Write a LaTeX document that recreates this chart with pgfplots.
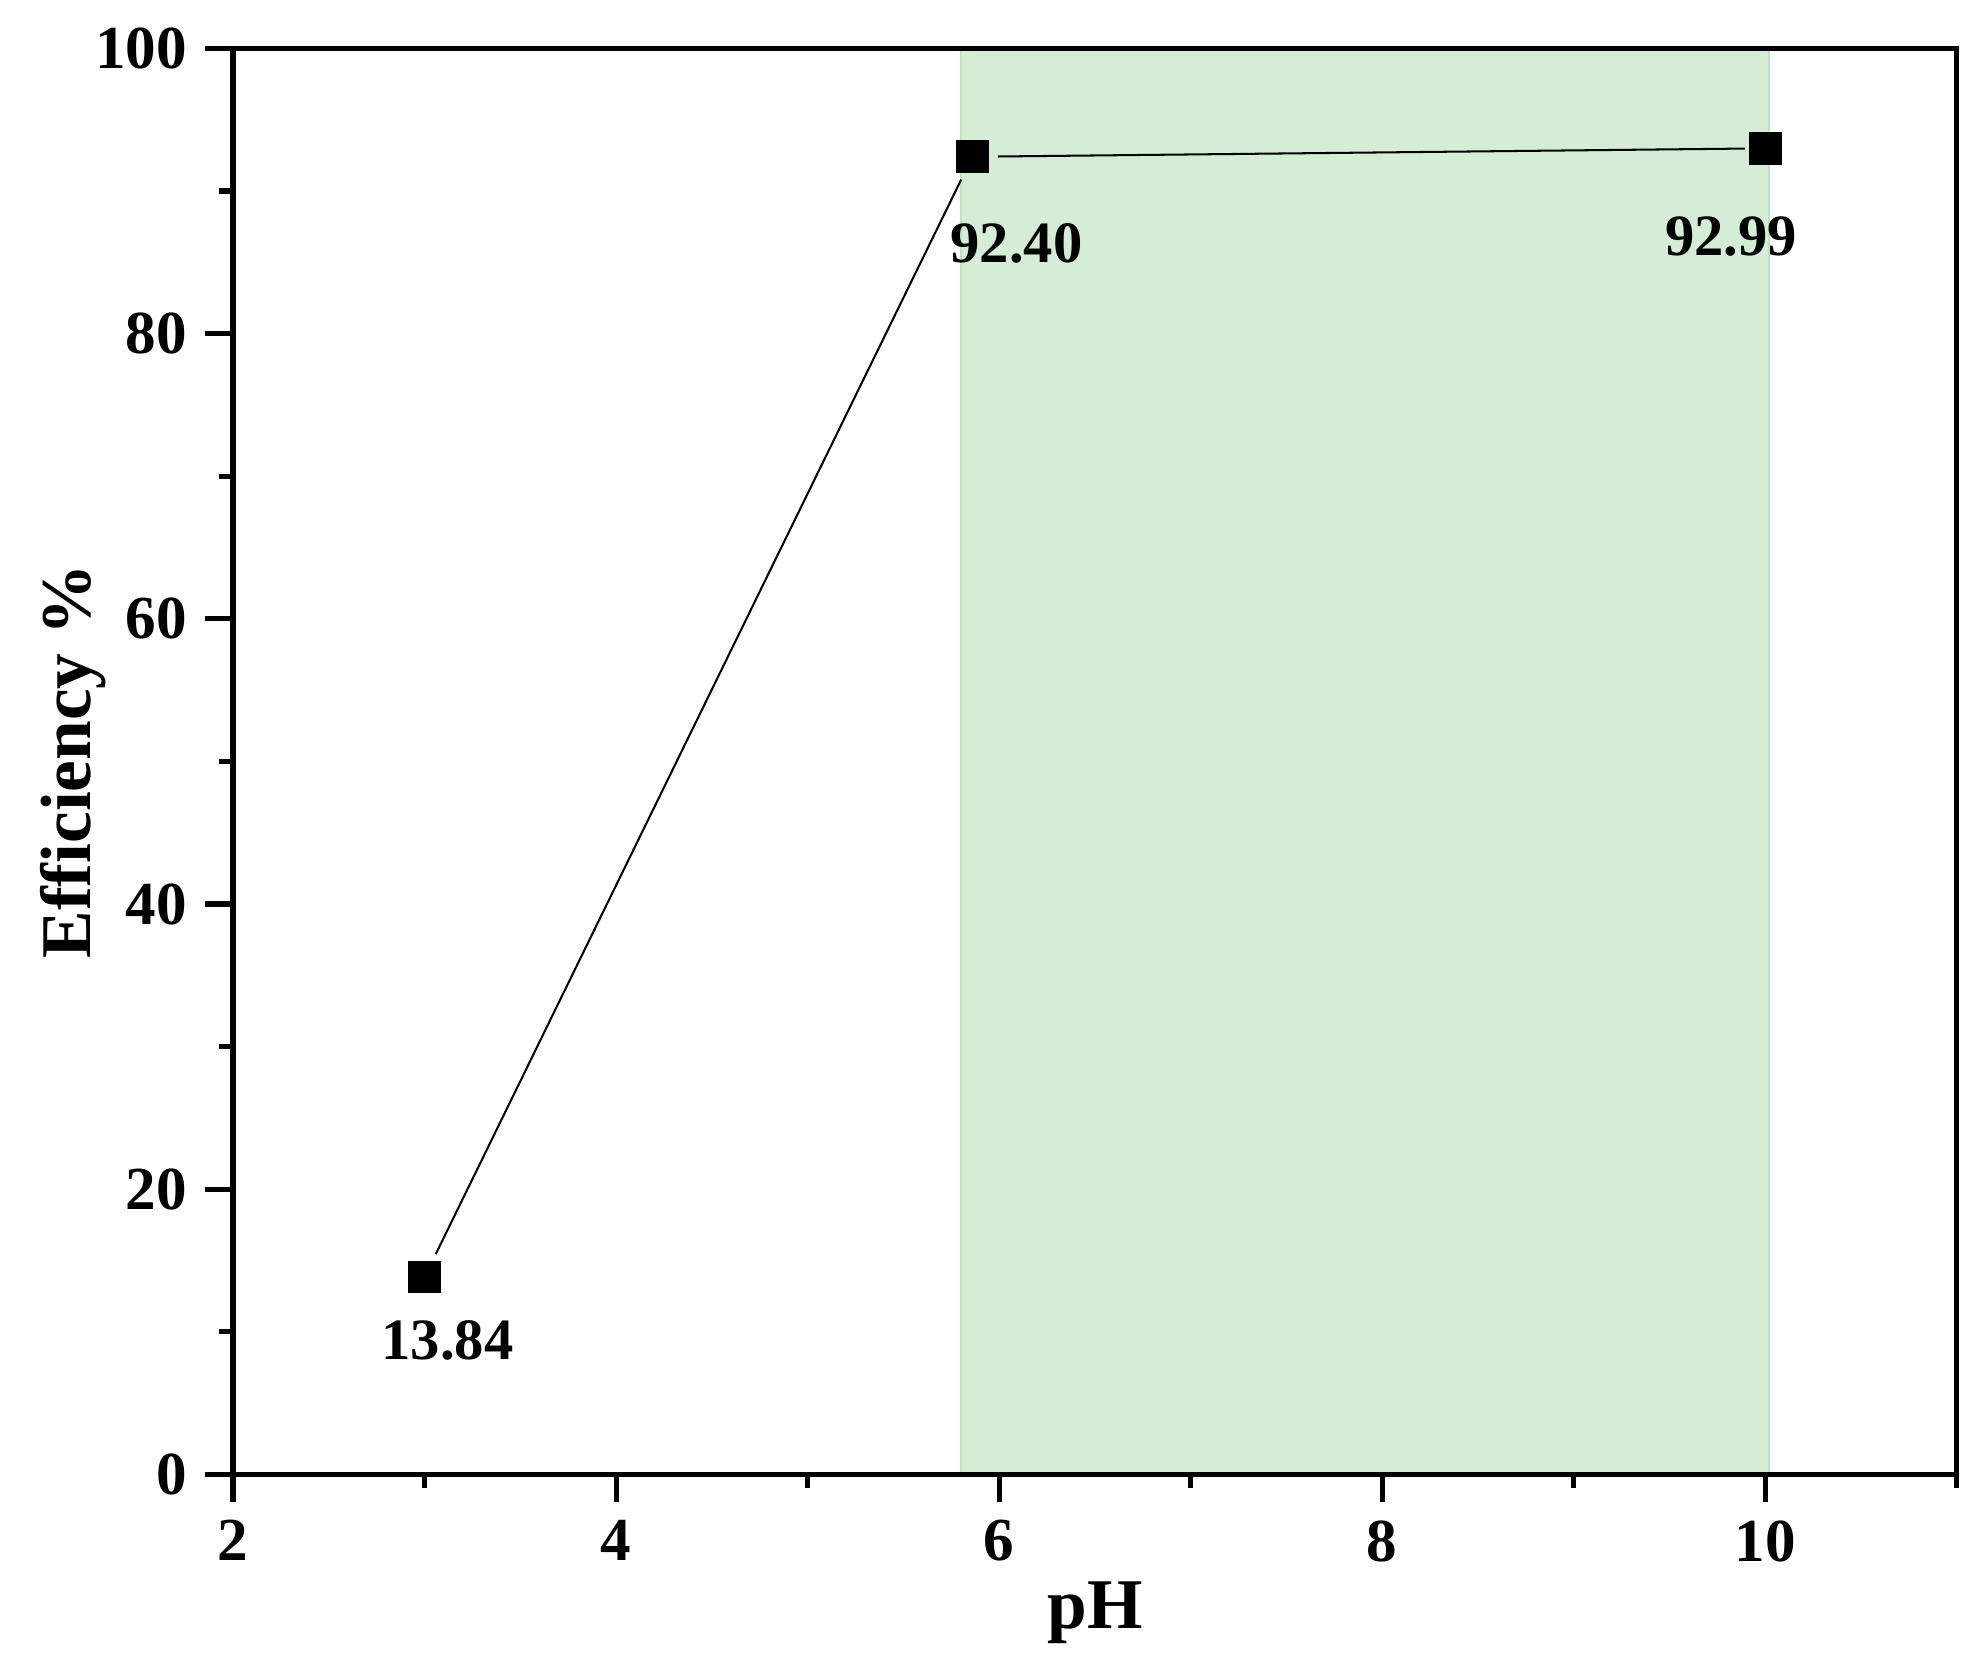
\documentclass[border=0pt]{standalone}
\usepackage{pgfplots}
\pgfplotsset{compat=1.18}
\usepackage{fontspec}
\setmainfont{Liberation Serif}
\definecolor{shade}{RGB}{213,236,213}
\definecolor{shadeedge}{RGB}{190,225,190}

\begin{document}
\begin{tikzpicture}
\begin{axis}[
  name=ax,
  scale only axis,
  width=338.5pt, height=280pt,
  xmin=2, xmax=11,
  ymin=0, ymax=100,
  xtick={2,4,6,8,10},
  minor xtick={3,5,7,9,11},
  ytick={0,20,40,60,80,100},
  minor ytick={10,30,50,70,90},
  tick align=outside,
  xtick pos=bottom, ytick pos=left,
  major tick length=5.5pt,
  minor tick length=2.75pt,
  every tick/.style={black, line width=1pt},
  axis line style={line width=1pt},
  /pgf/number format/assume math mode=true,
  ticklabel style={font=\fontsize{12}{12}\selectfont\bfseries},
  xlabel={pH},
  ylabel={Efficiency \%},
  label style={font=\fontsize{14}{14}\selectfont\bfseries},
  xlabel style={yshift=3pt},
  ylabel style={yshift=-9pt},
  axis on top,
]
% shaded range
\addplot[draw=shadeedge, fill=shade, line width=0.4pt]
  coordinates {(5.8,0) (5.8,100) (10.02,100) (10.02,0)} -- cycle;

% connecting segments with small gaps at markers
\addplot[black, line width=0.4pt, shorten <=5pt, shorten >=5pt]
  coordinates {(3,13.84) (5.86,92.40)};
\addplot[black, line width=0.4pt, shorten <=5pt, shorten >=4pt]
  coordinates {(5.86,92.40) (10,92.99)};

% markers
\addplot[only marks, mark=square*, mark size=3pt, black]
  coordinates {(3,13.84) (5.86,92.40) (10,92.99)};

\node[font=\fontsize{11.5}{11.5}\selectfont\bfseries] at (axis cs:3.12,9.4) {13.84};
\node[font=\fontsize{11.5}{11.5}\selectfont\bfseries] at (axis cs:6.09,86.3) {92.40};
\node[font=\fontsize{11.5}{11.5}\selectfont\bfseries] at (axis cs:9.82,86.8) {92.99};
\end{axis}
\pgfresetboundingbox
\path ([xshift=-45.75pt,yshift=-37.75pt]ax.south west) rectangle ([xshift=3.75pt,yshift=9.5pt]ax.north east);
\end{tikzpicture}
\end{document}
